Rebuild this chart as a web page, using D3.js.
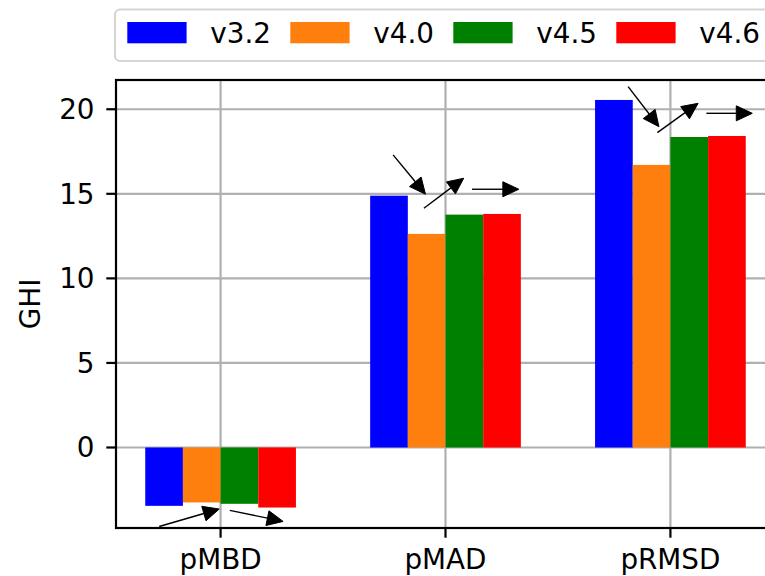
<!DOCTYPE html>
<html>
<head>
<meta charset="utf-8">
<script src="https://cdn.jsdelivr.net/npm/d3@7"></script>
<style>
  html, body { margin: 0; padding: 0; background: #fff; }
  svg { display: block; font-family: "DejaVu Sans", sans-serif; }
</style>
</head>
<body>
<svg id="chart" width="765" height="576"></svg>
<script>
// Error metrics for GHI by model version
const categories = ["pMBD", "pMAD", "pRMSD"];
const versions = ["v3.2", "v4.0", "v4.5", "v4.6"];
const colors = ["#0000ff", "#ff7f0e", "#008000", "#ff0000"];
const v32 = [-3.45, 14.89, 20.55];
const v40 = [-3.25, 12.63, 16.71];
const v45 = [-3.33, 13.77, 18.36];
const v46 = [-3.55, 13.81, 18.42];
const yTicks = [0, 5, 10, 15, 20];

// Trend arrows per metric: category index, then tail / head as (offset from category, value)
const arrows = [
  { cat: 0, x1: -0.273, y1: -4.67, x2: -0.006, y2: -3.64 },
  { cat: 0, x1: 0.041, y1: -3.72, x2: 0.278, y2: -4.37 },
  { cat: 1, x1: -0.233, y1: 17.30, x2: -0.089, y2: 14.98 },
  { cat: 1, x1: -0.096, y1: 14.15, x2: 0.081, y2: 15.92 },
  { cat: 1, x1: 0.118, y1: 15.27, x2: 0.326, y2: 15.27 },
  { cat: 2, x1: -0.188, y1: 21.34, x2: -0.051, y2: 18.97 },
  { cat: 2, x1: -0.058, y1: 18.62, x2: 0.123, y2: 20.35 },
  { cat: 2, x1: 0.160, y1: 19.76, x2: 0.364, y2: 19.76 }
];

const series = [v32, v40, v45, v46];

(function draw() {
  const svg = d3.select("#chart");
  const mLeft = 116, mRight = 775, mTop = 80, mBottom = 528;
  const fontSize = 27.8;
  const lw = 2.2;

  const x = d3.scaleLinear().domain([-0.465, 2.465]).range([mLeft, mRight]);
  const y = d3.scaleLinear().domain([-4.76, 21.73]).range([mBottom, mTop]);
  const barW = 0.1675;

  // grid
  const grid = svg.append("g").attr("stroke", "#b0b0b0").attr("stroke-width", lw);
  grid.selectAll("line.gy").data(yTicks).join("line").attr("class", "gy")
    .attr("x1", mLeft).attr("x2", mRight)
    .attr("y1", d => y(d)).attr("y2", d => y(d));
  grid.selectAll("line.gx").data(categories).join("line").attr("class", "gx")
    .attr("x1", (d, i) => x(i)).attr("x2", (d, i) => x(i))
    .attr("y1", mTop).attr("y2", mBottom);

  // bars
  series.forEach((vals, s) => {
    svg.append("g").attr("fill", colors[s])
      .selectAll("rect").data(vals).join("rect")
      .attr("x", (d, i) => x(i + (s - 2) * barW))
      .attr("width", x(barW) - x(0))
      .attr("y", d => y(Math.max(0, d)))
      .attr("height", d => Math.abs(y(d) - y(0)));
  });

  // arrows
  const arrowG = svg.append("g");
  arrows.forEach(a => {
    const x1 = x(a.cat + a.x1), y1 = y(a.y1), x2 = x(a.cat + a.x2), y2 = y(a.y2);
    const dx = x2 - x1, dy = y2 - y1, len = Math.hypot(dx, dy);
    const ux = dx / len, uy = dy / len;
    const hl = 16, hw = 7.5;
    const bx = x2 - ux * hl, by = y2 - uy * hl;
    arrowG.append("line")
      .attr("x1", x1).attr("y1", y1).attr("x2", bx).attr("y2", by)
      .attr("stroke", "#000").attr("stroke-width", 1.4);
    arrowG.append("path")
      .attr("d", `M${x2},${y2}L${bx - uy * hw},${by + ux * hw}L${bx + uy * hw},${by - ux * hw}Z`)
      .attr("fill", "#000").attr("stroke", "#000").attr("stroke-width", 1);
  });

  // spines
  svg.append("rect")
    .attr("x", mLeft).attr("y", mTop).attr("width", mRight - mLeft).attr("height", mBottom - mTop)
    .attr("fill", "none").attr("stroke", "#000").attr("stroke-width", lw);

  // y axis ticks and labels
  const yAxis = svg.append("g");
  yAxis.selectAll("line").data(yTicks).join("line")
    .attr("x1", mLeft - 9.7).attr("x2", mLeft)
    .attr("y1", d => y(d)).attr("y2", d => y(d))
    .attr("stroke", "#000").attr("stroke-width", lw);
  yAxis.selectAll("text").data(yTicks).join("text")
    .attr("x", mLeft - 21.5)
    .attr("y", d => y(d) + 10)
    .attr("text-anchor", "end")
    .attr("font-size", fontSize)
    .attr("fill", "#000")
    .text(d => d);

  // x axis ticks and labels
  const xAxis = svg.append("g");
  xAxis.selectAll("line").data(categories).join("line")
    .attr("x1", (d, i) => x(i)).attr("x2", (d, i) => x(i))
    .attr("y1", mBottom).attr("y2", mBottom + 9.7)
    .attr("stroke", "#000").attr("stroke-width", lw);
  xAxis.selectAll("text").data(categories).join("text")
    .attr("x", (d, i) => x(i))
    .attr("y", 569)
    .attr("text-anchor", "middle")
    .attr("font-size", fontSize)
    .attr("fill", "#000")
    .text(d => d);

  // y label
  svg.append("text")
    .attr("transform", `translate(40,${(mTop + mBottom) / 2}) rotate(-90)`)
    .attr("text-anchor", "middle")
    .attr("font-size", fontSize)
    .attr("fill", "#000")
    .text("GHI");

  // legend
  const legend = svg.append("g");
  legend.append("rect")
    .attr("x", 115).attr("y", 9.5).attr("width", 760).attr("height", 51.5)
    .attr("rx", 5).attr("ry", 5)
    .attr("fill", "#fff").attr("fill-opacity", 0.8)
    .attr("stroke", "#d5d5d5").attr("stroke-width", lw);
  versions.forEach((v, i) => {
    const x0 = 127.3 + i * 163;
    legend.append("rect")
      .attr("x", x0).attr("y", 22).attr("width", 59.3).attr("height", 21.3)
      .attr("fill", colors[i]);
    legend.append("text")
      .attr("x", x0 + 83).attr("y", 43.3)
      .attr("font-size", fontSize)
      .attr("fill", "#000")
      .text(v);
  });
})();
</script>
</body>
</html>
